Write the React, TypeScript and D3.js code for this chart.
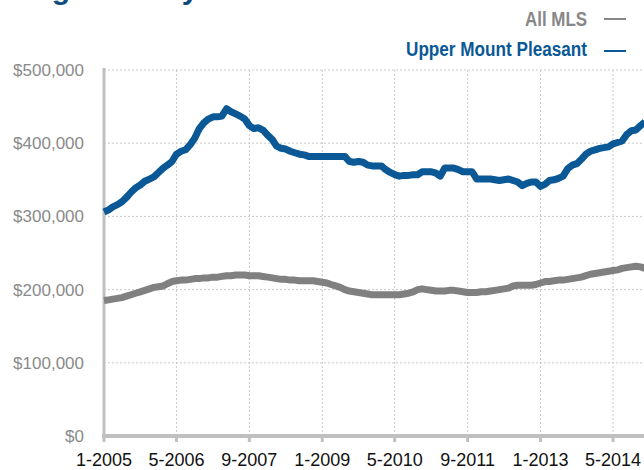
import { useEffect } from 'react'
import * as d3 from 'd3'

// monthly median prices, starting 1-2005 (values in $1000s)
const upperMountPleasant = [
  306, 309, 313, 316, 320, 326, 333, 339, 343, 348, 351, 354,
  360, 366, 370, 375, 385, 389, 391, 398, 407, 420, 428, 433,
  436, 436, 437, 447, 443, 440, 437, 433, 424, 420, 421, 418,
  411, 405, 396, 393, 392, 389, 387, 385, 384, 382, 382, 382,
  382, 382, 382, 382, 382, 382, 375, 374, 375, 374, 370, 369,
  369, 369, 364, 360, 357, 355, 356, 356, 357, 357, 361, 361,
  361, 359, 355, 366, 366, 366, 364, 361, 361, 361, 351, 351,
  351, 351, 350, 349, 350, 351, 349, 347, 342, 345, 347, 347,
  341, 344, 349, 350, 352, 355, 365, 370, 372, 378, 385, 389,
  391, 393, 394, 395, 399, 401, 403, 412, 417, 418, 424, 429,
]

const allMLS = [
  185, 186, 187, 188, 189, 191, 193, 195, 197, 199, 201, 203,
  204, 205, 208, 211, 212, 213, 213, 214, 215, 215, 216, 216,
  217, 217, 218, 219, 219, 220, 220, 220, 219, 219, 219, 218,
  217, 216, 215, 214, 214, 213, 213, 212, 212, 212, 212, 211,
  210, 209, 207, 205, 203, 200, 198, 197, 196, 195, 194, 193,
  193, 193, 193, 193, 193, 193, 194, 195, 197, 200, 201, 200,
  199, 198, 198, 198, 199, 199, 198, 197, 196, 196, 196, 197,
  197, 198, 199, 200, 201, 202, 205, 206, 206, 206, 206, 207,
  209, 211, 211, 212, 213, 213, 214, 215, 216, 217, 219, 221,
  222, 223, 224, 225, 226, 227, 229, 230, 231, 232, 231, 229,
]

const xTickLabels = ['1-2005', '5-2006', '9-2007', '1-2009', '5-2010', '9-2011', '1-2013', '5-2014']
const yTicks = [0, 100000, 200000, 300000, 400000, 500000]
const legendItems = [
  { name: 'All MLS', color: '#878787', width: 62 },
  { name: 'Upper Mount Pleasant', color: '#0a5896', width: 181 },
]

const W = 644
const H = 470
const left = 104
const top = 70
const bottom = 436

const start = new Date(2005, 0, 1)
const months = d3.timeMonth.range(start, d3.timeMonth.offset(start, upperMountPleasant.length))

const parseTick = (s: string) => {
  const [m, y] = s.split('-').map(Number)
  return new Date(y, m - 1, 1)
}

export default function App() {
  useEffect(() => {
    document.body.style.margin = '0'
  }, [])

  const tickDates = xTickLabels.map(parseTick)
  const x = d3.scaleTime()
    .domain([tickDates[0], tickDates[tickDates.length - 1]])
    .range([left, 613])
  const y = d3.scaleLinear().domain([0, 500000]).range([bottom, top])

  const line = d3.line<number>()
    .x((_d, i) => x(months[i]))
    .y(d => y(d * 1000))

  const fmt = (v: number) => '$' + d3.format(',')(v)

  return (
    <svg width={W} height={H} style={{ display: 'block', background: '#fff' }}>
      {/* title, mostly cropped off at the top */}
      <text x={5} y={-1} fill="#0d4a80" fontFamily="'Liberation Sans', Arial, sans-serif"
        fontWeight="bold" fontSize={30}>Single Family Detached</text>

      {/* legend */}
      {legendItems.map((d, i) => (
        <g key={d.name}>
          <text x={587 - d.width} y={26 + i * 30} fill={d.color}
            fontFamily="'Liberation Sans', Arial, sans-serif"
            textLength={d.width} lengthAdjust="spacingAndGlyphs"
            fontWeight="bold" fontSize={20}>{d.name}</text>
          <line x1={604} x2={626} y1={19 + i * 32} y2={19 + i * 32} stroke={d.color} strokeWidth={2} />
        </g>
      ))}

      {/* grid */}
      {yTicks.slice(1).map(t => (
        <line key={t} x1={left} x2={W} y1={y(t)} y2={y(t)} stroke="#c8c8c8" strokeWidth={1} strokeDasharray="2,2" />
      ))}
      {tickDates.slice(1).map((d, i) => (
        <line key={i} x1={x(d)} x2={x(d)} y1={top} y2={bottom} stroke="#c8c8c8" strokeWidth={1} strokeDasharray="2,2" />
      ))}

      {/* y labels */}
      {yTicks.map(t => (
        <text key={t} x={84} y={y(t) + 6} textAnchor="end" fill="#8a8a8a"
          fontFamily="'Liberation Sans', Arial, sans-serif" fontSize={17}>{fmt(t)}</text>
      ))}

      {/* axes */}
      <line x1={left} x2={left} y1={top - 2} y2={bottom + 2} stroke="#c0c0c0" strokeWidth={3} />
      <line x1={left - 2} x2={W} y1={bottom} y2={bottom} stroke="#c0c0c0" strokeWidth={4} />
      {tickDates.map((d, i) => (
        <line key={i} x1={x(d)} x2={x(d)} y1={bottom} y2={bottom + 6} stroke="#c0c0c0" strokeWidth={3} />
      ))}

      {/* x labels */}
      {tickDates.map((d, i) => (
        <text key={i} x={x(d)} y={466} textAnchor="middle" fill="#111"
          fontFamily="'Liberation Sans', Arial, sans-serif" fontSize={18}>{xTickLabels[i]}</text>
      ))}

      {/* series */}
      <path d={line(allMLS) ?? ''} fill="none" stroke="#808080" strokeWidth={7} strokeLinejoin="round" />
      <path d={line(upperMountPleasant) ?? ''} fill="none" stroke="#0a5896" strokeWidth={7} strokeLinejoin="round" />
    </svg>
  )
}
